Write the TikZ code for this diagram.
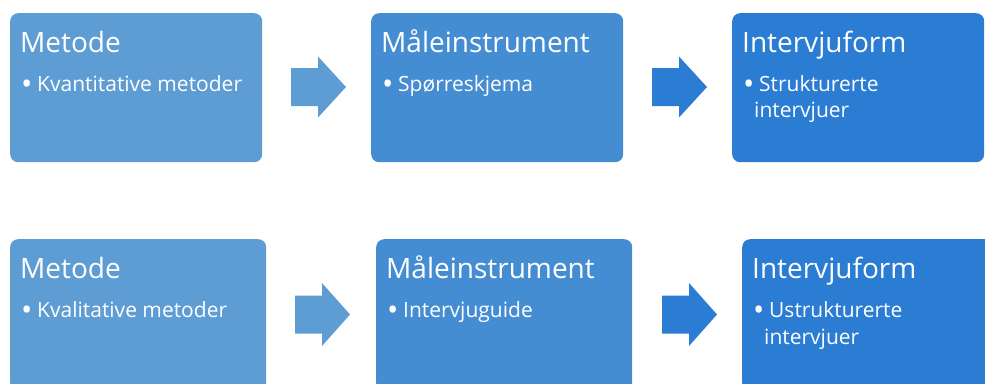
\documentclass[tikz,border=0pt]{standalone}
\usepackage{fontspec}
\setmainfont{Open Sans}
\usepackage{tikz}
\definecolor{blaa1}{HTML}{5E9DD3}
\definecolor{blaa2}{HTML}{458DD3}
\definecolor{blaa3}{HTML}{2B7CD3}
\tikzset{
  boks/.style={anchor=north west,rounded corners=8pt,minimum width=252pt,minimum height=149pt,inner sep=0pt},
  boksu/.style={boks,minimum width=256pt,minimum height=152pt},
  tittel/.style={anchor=base west,inner sep=0pt,text=white,font=\fontsize{28}{34}\selectfont},
  punkt/.style={anchor=base west,inner sep=0pt,text=white,font=\fontsize{21}{26}\selectfont},
  kule/.style={punkt,font=\fontsize{30}{30}\selectfont},
}

\begin{document}
\begin{tikzpicture}[x=1pt,y=-1pt]
  \clip (0,0) rectangle (985,383);
  % oeverste rad
  \node[boks,fill=blaa1] (metodeA) at (10,13) {};
  \node[boks,fill=blaa2] (maaleA) at (371,13) {};
  \node[boks,fill=blaa3] (formA) at (732,13) {};
  \fill[blaa1] (291,68)--(318,68)--(318,56.5)--(346,87)--(318,117.5)--(318,106)--(291,106)--cycle;
  \fill[blaa3] (652,68)--(679,68)--(679,56.5)--(707,87)--(679,117.5)--(679,106)--(652,106)--cycle;
  \node[tittel] (metodeAt) at ([shift={(10,39)}]metodeA.north west) {Metode};
  \node[kule] (metodeAb) at ([shift={(11,81.5)}]metodeA.north west) {•};
  \node[punkt] (metodeAp) at ([shift={(27,78)}]metodeA.north west) {Kvantitative metoder};
  \node[tittel] (maaleAt) at ([shift={(10,39)}]maaleA.north west) {Måleinstrument};
  \node[kule] (maaleAb) at ([shift={(11,81.5)}]maaleA.north west) {•};
  \node[punkt] (maaleAp) at ([shift={(27,78)}]maaleA.north west) {Spørreskjema};
  \node[tittel] (formAt) at ([shift={(10,39)}]formA.north west) {Intervjuform};
  \node[kule] (formAb) at ([shift={(11,81.5)}]formA.north west) {•};
  \node[punkt] (formAp) at ([shift={(27,78)}]formA.north west) {Strukturerte};
  \node[punkt] (formAq) at ([shift={(22,104.5)}]formA.north west) {intervjuer};
  % nederste rad
  \node[boksu,fill=blaa1] (metodeB) at (10,239) {};
  \node[boksu,fill=blaa2] (maaleB) at (376,239) {};
  \node[boksu,fill=blaa3] (formB) at (742,239) {};
  \fill[blaa1] (295,295.5)--(322,295.5)--(322,283)--(350,314.5)--(322,346)--(322,333.5)--(295,333.5)--cycle;
  \fill[blaa3] (662,295.5)--(689,295.5)--(689,283)--(717,314.5)--(689,346)--(689,333.5)--(662,333.5)--cycle;
  \node[tittel] (metodeBt) at ([shift={(10,39)}]metodeB.north west) {Metode};
  \node[kule] (metodeBb) at ([shift={(11,81.5)}]metodeB.north west) {•};
  \node[punkt] (metodeBp) at ([shift={(27,78)}]metodeB.north west) {Kvalitative metoder};
  \node[tittel] (maaleBt) at ([shift={(10,39)}]maaleB.north west) {Måleinstrument};
  \node[kule] (maaleBb) at ([shift={(11,81.5)}]maaleB.north west) {•};
  \node[punkt] (maaleBp) at ([shift={(27,78)}]maaleB.north west) {Intervjuguide};
  \node[tittel] (formBt) at ([shift={(10,39)}]formB.north west) {Intervjuform};
  \node[kule] (formBb) at ([shift={(11,81.5)}]formB.north west) {•};
  \node[punkt] (formBp) at ([shift={(27,78)}]formB.north west) {Ustrukturerte};
  \node[punkt] (formBq) at ([shift={(22,105)}]formB.north west) {intervjuer};
\end{tikzpicture}
\end{document}
